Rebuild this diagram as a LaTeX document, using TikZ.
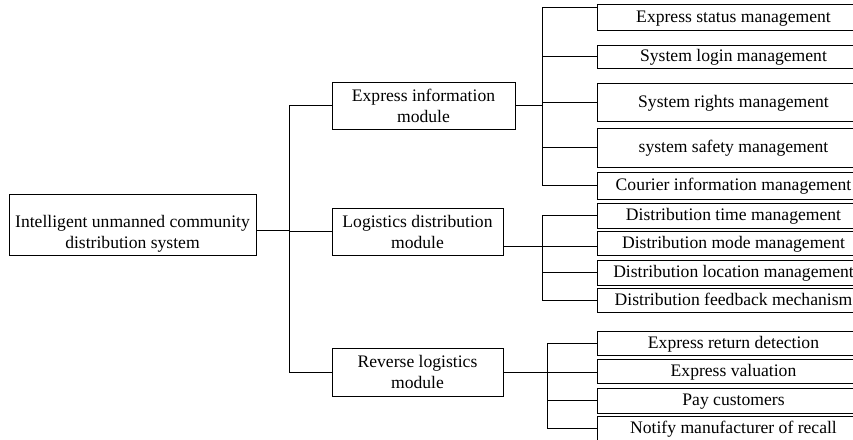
\documentclass[tikz,border=0pt]{standalone}
\usepackage{fontspec}
\setmainfont{Liberation Serif}
\usepackage{tikz}
\usetikzlibrary{positioning}

\tikzset{
  unit/.style={rectangle, draw, align=center, inner sep=0pt, outer sep=0pt,
    font=\fontsize{17.6}{21}\selectfont},
  leaf/.style={unit, minimum width=273pt, text height=14pt, text depth=4pt},
}

\begin{document}
\begin{tikzpicture}[x=1pt, y=-1pt, line width=0.8pt]

    \useasboundingbox (0,0) rectangle (853,439);
    \clip (0,0) rectangle (853,439);

    % Define nodes
    \node[unit, minimum width=247pt, minimum height=61pt, text height=52pt, text depth=4pt] (root) at (132.5,224.5) {Intelligent unmanned community\\distribution system};
    \node[unit, minimum width=183pt, minimum height=47pt] (express) at (423.5,105.5) {Express information\\module};
    \node[unit, minimum width=171pt, minimum height=47pt] (logistics) at (417.5,231.5) {Logistics distribution\\module};
    \node[unit, minimum width=171pt, minimum height=48pt] (reverse) at (417.5,372) {Reverse logistics\\module};

    \node[leaf, minimum height=26pt] (status) at (733.5,17) {Express status management};
    \node[leaf, minimum height=23pt, below=15pt of status] (login) {System login management};
    \node[leaf, minimum height=38pt, below=15pt of login] (rights) {System rights management};
    \node[leaf, minimum height=39pt, below=7pt of rights] (safety) {system safety management};
    \node[leaf, minimum height=27pt, below=5pt of safety] (courier) {Courier information management};
    \node[leaf, minimum height=25pt, below=4pt of courier] (dtime) {Distribution time management};
    \node[leaf, minimum height=24pt, below=3pt of dtime] (dmode) {Distribution mode management};
    \node[leaf, minimum height=25pt, below=5pt of dmode] (dloc) {Distribution location management};
    \node[leaf, minimum height=24pt, below=3pt of dloc] (dfeed) {Distribution feedback mechanism};
    \node[leaf, minimum height=24pt, below=19pt of dfeed] (retdet) {Express return detection};
    \node[leaf, minimum height=24pt, below=4pt of retdet] (valuation) {Express valuation};
    \node[leaf, minimum height=25pt, below=5pt of valuation] (pay) {Pay customers};
    \node[leaf, minimum height=25pt, below=3pt of pay] (notify) {Notify manufacturer of recall};

    \coordinate (trunk) at (289,0);
    \coordinate (ebus) at (542,0);
    \coordinate (lbus) at (542,0);
    \coordinate (rbus) at (547,0);

    % Connect the nodes
    \draw ([yshift=-6pt]root.east) -- ([yshift=-6pt]root.east -| trunk);
    \draw (express.west) -| (trunk |- reverse.west) -- (reverse.west);
    \draw (logistics.west) -- (logistics.west -| trunk);

    \draw (express.east) -- (express.east -| ebus);
    \draw ([yshift=10pt]status.west) -| (ebus |- courier.west) -- (courier.west);
    \draw (login.west) -- (login.west -| ebus);
    \draw (rights.west) -- (rights.west -| ebus);
    \draw (safety.west) -- (safety.west -| ebus);

    \draw ([yshift=-15pt]logistics.east) -- ([yshift=-15pt]logistics.east -| dmode.west);
    \draw (dtime.west) -| (lbus |- dfeed.west) -- (dfeed.west);
    \draw (dloc.west) -- (dloc.west -| lbus);

    \draw (reverse.east) -- (reverse.east -| valuation.west);
    \draw (retdet.west) -| (rbus |- notify.west) -- (notify.west);
    \draw (pay.west) -- (pay.west -| rbus);

\end{tikzpicture}
\end{document}
